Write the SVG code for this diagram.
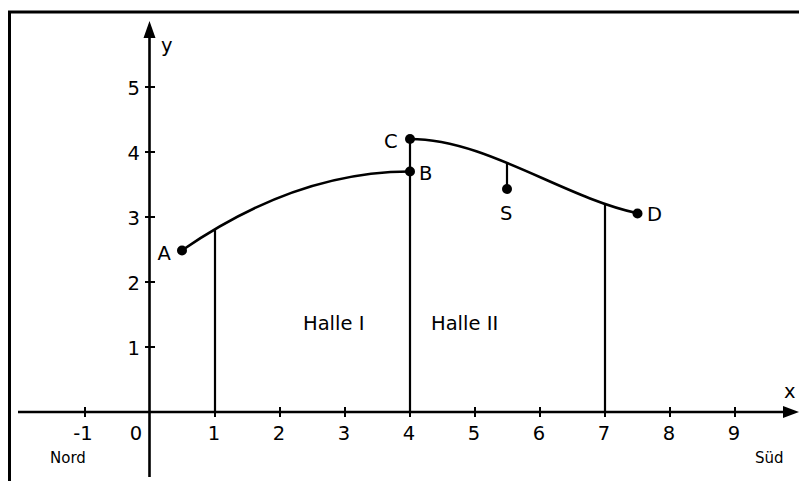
<svg xmlns="http://www.w3.org/2000/svg" width="799" height="481" viewBox="0 0 799 481">
<style>
text{font-family:"DejaVu Sans","Liberation Sans",sans-serif;fill:#000}
.lbl{font-size:19.5px}
.sm{font-size:15px}
.ax{stroke:#000;stroke-width:2.6;fill:none}
.tk{stroke:#000;stroke-width:2;fill:none}
.cv{stroke:#000;stroke-width:2.6;fill:none}
.vl{stroke:#000;stroke-width:2.2;fill:none}
.pt{fill:#000}
</style>
<rect x="0" y="0" width="799" height="481" fill="#fff"/>
<rect x="9.5" y="12" width="800" height="480" fill="none" stroke="#000" stroke-width="3"/>
<g id="axes">
<line class="ax" x1="18" y1="412" x2="786" y2="412"/>
<polygon points="799,412 783,406 783,418" fill="#000"/>
<line class="ax" x1="149.5" y1="477" x2="149.5" y2="36"/>
<polygon points="149.5,21 143.5,38 155.5,38" fill="#000"/>
<g class="tk">
<line x1="85" y1="407" x2="85" y2="417"/>
<line x1="215" y1="407" x2="215" y2="417"/>
<line x1="280" y1="407" x2="280" y2="417"/>
<line x1="345" y1="407" x2="345" y2="417"/>
<line x1="410" y1="407" x2="410" y2="417"/>
<line x1="475" y1="407" x2="475" y2="417"/>
<line x1="540" y1="407" x2="540" y2="417"/>
<line x1="605" y1="407" x2="605" y2="417"/>
<line x1="670" y1="407" x2="670" y2="417"/>
<line x1="735" y1="407" x2="735" y2="417"/>
<line x1="145" y1="347" x2="155" y2="347"/>
<line x1="145" y1="282" x2="155" y2="282"/>
<line x1="145" y1="217" x2="155" y2="217"/>
<line x1="145" y1="152" x2="155" y2="152"/>
<line x1="145" y1="87" x2="155" y2="87"/>
</g>
<g class="lbl" text-anchor="middle">
<text x="83" y="440">-1</text>
<text x="136" y="440">0</text>
<text x="214" y="440">1</text>
<text x="279" y="440">2</text>
<text x="344" y="440">3</text>
<text x="409" y="440">4</text>
<text x="474" y="440">5</text>
<text x="539" y="440">6</text>
<text x="604" y="440">7</text>
<text x="669" y="440">8</text>
<text x="734" y="440">9</text>
</g>
<g class="lbl" text-anchor="end">
<text x="140" y="354.5">1</text>
<text x="140" y="289.5">2</text>
<text x="140" y="224.5">3</text>
<text x="140" y="159.5">4</text>
<text x="140" y="95">5</text>
</g>
<text class="lbl" x="161" y="52">y</text>
<text class="lbl" x="784" y="398">x</text>
<text class="sm" x="50" y="463">Nord</text>
<text class="sm" x="755" y="463">Süd</text>
</g>
<g id="connectors">
<path class="cv" d="M182.5,250 Q296.25,171.5 410,171.5"/>
<path class="cv" d="M410,139 C485.8,139 561.7,196.8 637.5,213.2"/>
<line class="vl" x1="215" y1="229.5" x2="215" y2="412"/>
<line class="vl" x1="410" y1="139" x2="410" y2="412"/>
<line class="vl" x1="605" y1="204" x2="605" y2="412"/>
<line class="vl" x1="507" y1="163" x2="507" y2="189"/>
</g>
<g id="A"><circle class="pt" cx="182" cy="250.5" r="5"/><text class="lbl" x="157.5" y="260">A</text></g>
<g id="B"><circle class="pt" cx="410" cy="171.5" r="5"/><text class="lbl" x="419" y="180">B</text></g>
<g id="C"><circle class="pt" cx="410" cy="139" r="5"/><text class="lbl" x="384" y="148">C</text></g>
<g id="S"><circle class="pt" cx="507" cy="189" r="5"/><text class="lbl" x="500" y="220">S</text></g>
<g id="D"><circle class="pt" cx="637.5" cy="213.5" r="5"/><text class="lbl" x="647" y="221">D</text></g>
<g id="halle1"><text class="lbl" x="303" y="330">Halle I</text></g>
<g id="halle2"><text class="lbl" x="431" y="330">Halle II</text></g>
</svg>
